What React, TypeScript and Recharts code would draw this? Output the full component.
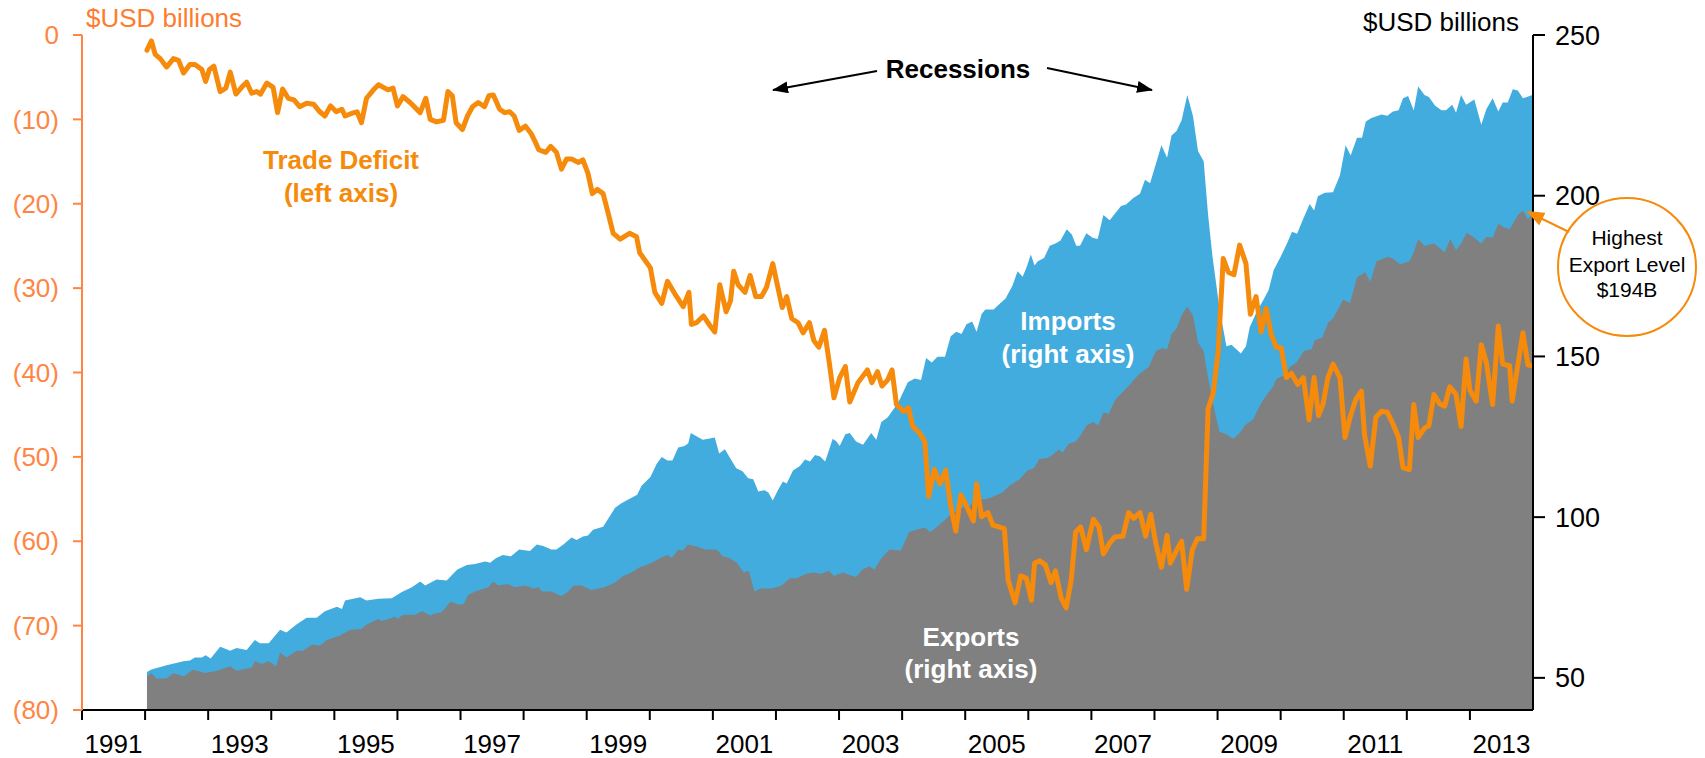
import React from 'react';
import { ComposedChart, Area, Line, XAxis, YAxis } from 'recharts';

// Trade deficit (left axis, $USD billions, shown as (x))
const deficitT = [1992.03,1992.10,1992.16,1992.24,1992.34,1992.45,1992.53,1992.61,1992.71,1992.79,1992.90,1992.96,1993.02,1993.09,1993.19,1993.28,1993.35,1993.44,1993.53,1993.61,1993.69,1993.77,1993.83,1993.93,1994.03,1994.10,1994.18,1994.27,1994.36,1994.45,1994.56,1994.67,1994.77,1994.85,1994.94,1995.03,1995.12,1995.17,1995.27,1995.36,1995.43,1995.51,1995.62,1995.70,1995.85,1995.93,1996.00,1996.09,1996.20,1996.36,1996.45,1996.52,1996.62,1996.73,1996.80,1996.87,1996.93,1997.03,1997.11,1997.19,1997.28,1997.38,1997.45,1997.52,1997.62,1997.70,1997.78,1997.85,1997.93,1998.03,1998.12,1998.18,1998.24,1998.35,1998.43,1998.52,1998.60,1998.68,1998.76,1998.87,1998.94,1999.02,1999.09,1999.17,1999.26,1999.34,1999.42,1999.53,1999.68,1999.79,1999.84,2000.01,2000.08,2000.19,2000.28,2000.40,2000.53,2000.62,2000.66,2000.74,2000.85,2000.95,2001.03,2001.11,2001.21,2001.28,2001.33,2001.40,2001.51,2001.59,2001.68,2001.77,2001.85,2001.95,2002.03,2002.10,2002.17,2002.25,2002.35,2002.43,2002.53,2002.60,2002.68,2002.77,2002.85,2002.92,2003.01,2003.10,2003.17,2003.30,2003.45,2003.52,2003.61,2003.68,2003.77,2003.84,2003.91,2004.02,2004.10,2004.17,2004.28,2004.36,2004.42,2004.51,2004.60,2004.69,2004.77,2004.85,2004.93,2005.00,2005.13,2005.18,2005.26,2005.36,2005.44,2005.62,2005.68,2005.79,2005.88,2005.97,2006.05,2006.10,2006.18,2006.27,2006.36,2006.43,2006.52,2006.60,2006.68,2006.75,2006.83,2006.92,2007.03,2007.12,2007.19,2007.29,2007.37,2007.50,2007.59,2007.67,2007.77,2007.86,2007.94,2008.02,2008.11,2008.20,2008.25,2008.35,2008.43,2008.51,2008.60,2008.68,2008.78,2008.85,2008.93,2009.01,2009.09,2009.17,2009.26,2009.35,2009.45,2009.52,2009.61,2009.69,2009.77,2009.85,2009.93,2010.01,2010.09,2010.17,2010.27,2010.36,2010.45,2010.53,2010.60,2010.67,2010.75,2010.83,2010.94,2011.02,2011.10,2011.19,2011.28,2011.33,2011.42,2011.51,2011.60,2011.69,2011.78,2011.87,2011.94,2012.04,2012.11,2012.18,2012.28,2012.35,2012.43,2012.52,2012.60,2012.68,2012.78,2012.86,2012.94,2013.00,2013.10,2013.18,2013.26,2013.36,2013.45,2013.52,2013.63,2013.67,2013.76,2013.84,2013.92,2013.97];
const deficitV = [1.8,0.7,2.3,2.8,3.8,2.8,3.0,4.5,3.5,3.5,4.1,5.5,4.1,3.7,6.7,6.3,4.4,7.0,6.2,5.6,6.9,6.7,7.0,5.7,6.2,9.2,6.4,7.5,7.7,8.5,8.1,8.2,9.1,9.6,8.4,9.1,8.8,9.6,9.3,9.1,10.4,7.5,6.5,5.9,6.5,6.3,8.4,7.3,8.0,9.2,7.5,10.0,10.3,10.1,6.7,7.2,10.4,11.2,9.6,8.5,8.0,8.5,7.2,7.1,8.8,9.2,9.1,9.6,11.3,10.8,11.7,12.6,13.6,13.9,13.2,13.9,15.9,14.7,14.7,15.1,14.8,16.4,18.8,18.3,18.8,21.1,23.5,24.2,23.5,23.9,25.8,27.6,30.5,31.8,29.2,30.7,32.2,30.5,34.3,34.1,33.3,34.4,35.2,29.6,32.8,31.5,28.0,29.6,30.5,28.5,31.0,31.0,29.9,27.1,29.9,32.3,31.0,33.6,34.1,35.3,34.1,36.2,37.0,35.0,39.1,43.0,40.6,39.3,43.5,41.2,39.7,41.2,39.9,41.6,40.9,39.7,43.8,44.6,44.2,46.4,47.2,48.2,54.7,51.5,53.2,51.6,55.8,58.8,54.5,55.5,57.6,53.2,57.1,56.6,58.1,58.5,64.6,67.3,64.1,64.4,67.0,62.6,62.3,62.8,64.9,63.5,66.7,67.9,64.6,58.9,58.3,61.0,57.4,58.3,61.5,60.2,59.5,59.4,56.6,57.3,56.6,59.4,56.8,60.2,63.1,59.3,62.6,61.1,60.0,65.7,61.0,59.7,59.7,44.3,42.5,37.5,26.5,28.1,28.4,24.9,27.1,33.1,31.0,35.2,32.4,35.5,37.0,37.1,40.6,40.1,41.4,40.6,45.6,40.6,45.1,43.8,40.6,39.0,40.6,47.7,45.3,43.2,42.2,47.4,51.1,45.3,44.6,44.7,46.1,47.7,51.3,51.5,43.8,47.7,46.6,46.3,42.6,43.7,44.0,41.7,42.6,46.4,38.4,42.1,43.4,36.7,38.8,43.8,34.5,39.0,39.2,43.4,39.1,35.3,39.1,39.2];

// Imports (right axis, $USD billions)
const importsT = [1992.03,1992.10,1992.34,1992.61,1992.71,1992.79,1992.90,1992.96,1993.04,1993.19,1993.35,1993.45,1993.61,1993.74,1993.82,1993.96,1994.14,1994.24,1994.40,1994.56,1994.72,1994.85,1995.04,1995.12,1995.17,1995.41,1995.51,1995.70,1995.91,1996.07,1996.23,1996.36,1996.44,1996.62,1996.78,1996.95,1997.10,1997.23,1997.39,1997.47,1997.56,1997.67,1997.80,1997.93,1998.10,1998.21,1998.31,1998.44,1998.52,1998.63,1998.76,1998.84,1998.94,1999.02,1999.10,1999.26,1999.34,1999.45,1999.55,1999.80,1999.87,2000.01,2000.11,2000.19,2000.28,2000.36,2000.45,2000.55,2000.61,2000.65,2000.74,2000.84,2000.93,2001.03,2001.10,2001.19,2001.37,2001.47,2001.56,2001.64,2001.72,2001.82,2001.88,2001.95,2002.03,2002.11,2002.17,2002.27,2002.38,2002.46,2002.54,2002.62,2002.70,2002.78,2002.90,2002.96,2003.01,2003.10,2003.17,2003.27,2003.38,2003.51,2003.59,2003.67,2003.77,2003.88,2003.96,2004.09,2004.20,2004.30,2004.38,2004.47,2004.56,2004.68,2004.77,2004.86,2004.94,2005.02,2005.11,2005.18,2005.26,2005.32,2005.45,2005.56,2005.64,2005.75,2005.83,2005.91,2005.97,2006.04,2006.10,2006.15,2006.25,2006.34,2006.43,2006.51,2006.61,2006.69,2006.76,2006.82,2006.92,2007.02,2007.10,2007.19,2007.29,2007.47,2007.55,2007.66,2007.77,2007.85,2007.93,2008.01,2008.11,2008.20,2008.27,2008.35,2008.43,2008.52,2008.61,2008.69,2008.78,2008.85,2008.92,2009.03,2009.14,2009.22,2009.37,2009.45,2009.51,2009.62,2009.73,2009.81,2009.89,2009.99,2010.10,2010.18,2010.26,2010.34,2010.46,2010.53,2010.59,2010.70,2010.83,2010.94,2011.03,2011.11,2011.21,2011.29,2011.35,2011.44,2011.60,2011.69,2011.78,2011.87,2011.94,2012.02,2012.11,2012.18,2012.28,2012.35,2012.45,2012.55,2012.62,2012.72,2012.78,2012.86,2012.94,2013.07,2013.18,2013.26,2013.36,2013.45,2013.52,2013.60,2013.68,2013.76,2013.84,2013.99];
const importsV = [51.8,52.6,53.9,55.2,55.4,56.3,56.3,57.0,56.0,59.7,58.4,59.3,58.7,61.8,60.8,60.8,65.0,64.1,66.6,68.7,68.7,70.7,72.1,71.4,74.1,75.1,74.1,74.6,74.8,76.7,78.2,80.0,78.7,80.6,80.3,83.7,85.1,85.4,86.2,85.8,87.2,88.2,87.8,89.9,89.5,91.5,91.0,89.9,89.9,91.5,93.7,92.9,94.0,94.3,96.1,97.0,99.5,102.9,104.3,107.0,109.8,112.5,116.6,118.7,117.6,117.6,121.7,122.1,123.0,126.2,125.2,124.1,124.4,124.8,119.8,121.1,115.2,114.3,112.1,111.8,108.0,108.4,107.7,105.2,108.4,111.1,110.5,114.5,115.9,117.9,117.3,119.3,118.9,117.3,124.4,123.5,122.1,125.8,126.2,123.5,122.5,126.2,124.1,129.6,131.0,134.0,136.5,142.0,143.1,142.7,149.5,148.1,149.9,149.9,156.3,157.7,157.0,160.0,160.9,157.7,163.2,164.6,164.6,166.6,168.0,172.1,176.5,174.8,177.6,181.7,178.3,179.6,180.6,184.4,185.1,186.1,189.6,187.9,184.4,184.4,188.3,186.9,186.5,194.0,192.4,196.8,197.3,199.2,200.6,205.0,203.9,209.1,215.7,211.8,218.7,220.1,223.5,231.3,224.8,213.9,210.7,194.0,181.0,165.0,153.2,153.6,150.9,153.2,159.1,163.9,167.7,170.7,176.9,180.6,185.1,188.8,188.2,192.0,197.4,195.4,199.8,200.9,201.1,206.4,215.7,212.5,218.0,218.0,223.1,224.2,225.3,224.9,226.2,226.6,230.3,231.0,226.5,234.0,231.3,230.7,228.0,226.6,226.6,228.3,225.8,231.3,228.3,229.9,222.1,226.9,230.3,226.2,229.0,229.0,233.1,232.7,230.3,231.3];

// Exports (right axis, $USD billions)
const exportsT = [1992.03,1992.10,1992.18,1992.34,1992.45,1992.61,1992.76,1992.95,1993.14,1993.35,1993.45,1993.69,1993.74,1993.85,1993.96,1994.08,1994.14,1994.24,1994.40,1994.50,1994.65,1994.77,1994.88,1995.09,1995.25,1995.43,1995.51,1995.70,1995.75,1995.86,1995.96,1996.00,1996.09,1996.28,1996.39,1996.52,1996.59,1996.70,1996.84,1996.97,1997.05,1997.12,1997.23,1997.44,1997.52,1997.60,1997.75,1997.86,1998.03,1998.16,1998.24,1998.29,1998.44,1998.60,1998.71,1998.79,1998.92,1999.07,1999.28,1999.44,1999.58,1999.71,1999.84,2000.00,2000.16,2000.28,2000.35,2000.45,2000.53,2000.60,2000.72,2000.88,2001.06,2001.16,2001.27,2001.38,2001.49,2001.57,2001.66,2001.75,2001.93,2002.09,2002.22,2002.33,2002.48,2002.59,2002.71,2002.84,2002.92,2003.06,2003.17,2003.27,2003.37,2003.48,2003.56,2003.67,2003.80,2003.98,2004.11,2004.22,2004.36,2004.44,2004.54,2004.68,2004.78,2004.94,2005.08,2005.18,2005.32,2005.43,2005.59,2005.70,2005.86,2005.99,2006.09,2006.17,2006.30,2006.38,2006.49,2006.54,2006.64,2006.75,2006.83,2006.92,2007.03,2007.11,2007.19,2007.27,2007.38,2007.48,2007.59,2007.75,2007.91,2008.02,2008.12,2008.20,2008.27,2008.35,2008.43,2008.52,2008.61,2008.69,2008.78,2008.85,2008.93,2009.03,2009.14,2009.25,2009.35,2009.45,2009.56,2009.69,2009.80,2009.88,2009.93,2010.04,2010.15,2010.25,2010.37,2010.49,2010.54,2010.66,2010.75,2010.83,2010.99,2011.10,2011.21,2011.34,2011.42,2011.52,2011.70,2011.79,2011.89,2012.04,2012.11,2012.18,2012.28,2012.43,2012.52,2012.60,2012.69,2012.78,2012.86,2012.95,2013.07,2013.18,2013.26,2013.36,2013.45,2013.54,2013.63,2013.76,2013.84,2013.92,2013.99];
const exportsV = [50.4,51.5,49.8,49.8,51.5,50.4,52.6,51.5,52.2,53.6,52.2,53.2,55.2,54.3,55.2,53.6,57.9,56.3,58.4,58.4,60.4,60.0,61.8,63.2,65.0,65.2,66.6,68.3,67.7,68.3,69.1,68.3,69.6,69.6,70.7,69.4,70.0,70.4,73.7,72.8,73.0,75.8,76.9,78.2,80.0,78.7,79.2,78.2,78.7,77.8,78.2,76.9,76.9,75.5,76.9,78.7,78.7,77.3,78.2,79.6,81.7,82.8,84.4,85.5,87.2,88.2,87.4,89.9,89.6,91.5,91.0,89.9,89.9,87.8,87.2,85.8,82.8,83.3,76.9,77.8,77.8,78.7,81.0,81.0,82.4,82.8,82.4,83.3,81.7,82.8,82.0,81.4,83.7,84.7,83.7,87.2,89.9,89.6,95.4,96.1,96.8,95.4,96.8,99.2,101.1,102.9,103.6,105.6,105.6,106.3,107.7,109.8,111.8,114.6,115.2,118.0,118.4,119.3,121.1,120.0,122.8,123.5,125.5,128.5,129.6,128.5,132.6,132.1,136.5,138.6,140.9,144.4,146.8,151.6,152.6,152.2,157.0,158.7,162.8,165.5,162.8,154.3,151.6,143.3,135.1,126.6,125.8,124.4,126.2,128.9,130.3,135.4,138.6,140.6,143.0,144.0,146.8,148.1,151.8,152.2,155.0,155.9,160.5,161.8,167.7,166.6,174.6,176.2,173.2,179.6,181.0,180.3,178.7,179.6,182.4,186.5,184.4,185.1,183.7,182.4,186.5,183.1,185.1,188.5,186.9,185.1,187.2,186.9,191.3,190.2,189.6,194.0,195.4,192.7,194.3];

const yearTicks = [1991,1992,1993,1994,1995,1996,1997,1998,1999,2000,2001,2002,2003,2004,2005,2006,2007,2008,2009,2010,2011,2012,2013];
const labelYears = [1991,1993,1995,1997,1999,2001,2003,2005,2007,2009,2011,2013];
const leftTicks = [0,10,20,30,40,50,60,70,80];
const rightTicks = [50,100,150,200,250];

const deficitData = deficitT.map((t, i) => ({ t, v: deficitV[i] }));
const importsData = importsT.map((t, i) => ({ t, v: importsV[i] }));
const exportsData = exportsT.map((t, i) => ({ t, v: exportsV[i] }));

const ORANGE_LINE = '#F58A0B';
const ORANGE_AXIS = '#FF8544';
const ORANGE_TEXT = '#FF7B2E';
const BLUE = '#42ACDF';
const GRAY = '#808080';
const FONT = '"Liberation Sans", Arial, sans-serif';

const X_MIN = 1991;
const X_MAX = 2014;

// Year labels are centred in the middle of each year interval (between ticks)
const YearTick = (props: any) => {
  const { x, y, payload } = props;
  const year = payload && payload.value;
  if (labelYears.indexOf(year) < 0) return null;
  const halfYear = (1705 - 82 - 172) / (X_MAX - X_MIN) / 2;
  return (
    <text x={x + halfYear} y={y} dy="0.71em" textAnchor="middle" fontSize={26} fill="#000">
      {String(year)}
    </text>
  );
};

export default function App() {
  return (
    <div style={{ position: 'absolute', left: 0, top: 0, width: 1705, height: 758, fontFamily: FONT, background: '#fff' }}>
      <ComposedChart width={1705} height={758} margin={{ top: 35, right: 0, bottom: 0, left: 0 }}>
        <XAxis
          dataKey="t"
          type="number"
          domain={[X_MIN, X_MAX]}
          ticks={yearTicks}
          interval={0}
          height={48}
          tickSize={10}
          tickMargin={15}
          axisLine={{ stroke: '#000', strokeWidth: 2 }}
          tickLine={{ stroke: '#000', strokeWidth: 2 }}
          tick={<YearTick />}
          allowDataOverflow
        />
        <YAxis
          yAxisId="left"
          orientation="left"
          domain={[0, 80]}
          reversed
          ticks={leftTicks}
          interval={0}
          width={82}
          tickSize={9}
          tickMargin={14}
          tickFormatter={(v: number) => (v === 0 ? '0' : `(${v})`)}
          axisLine={{ stroke: ORANGE_AXIS, strokeWidth: 2 }}
          tickLine={{ stroke: ORANGE_AXIS, strokeWidth: 2 }}
          tick={{ fill: ORANGE_AXIS, fontSize: 26 }}
          allowDataOverflow
        />
        <YAxis
          yAxisId="right"
          orientation="right"
          domain={[40, 250]}
          ticks={rightTicks}
          interval={0}
          width={172}
          tickSize={12}
          tickMargin={10}
          axisLine={{ stroke: '#000', strokeWidth: 2 }}
          tickLine={{ stroke: '#000', strokeWidth: 2 }}
          tick={{ fill: '#000', fontSize: 27 }}
          allowDataOverflow
        />
        <Area
          yAxisId="right"
          data={importsData}
          dataKey="v"
          type="linear"
          stroke="none"
          fill={BLUE}
          fillOpacity={1}
          isAnimationActive={false}
          dot={false}
          activeDot={false}
        />
        <Area
          yAxisId="right"
          data={exportsData}
          dataKey="v"
          type="linear"
          stroke="none"
          fill={GRAY}
          fillOpacity={1}
          isAnimationActive={false}
          dot={false}
          activeDot={false}
        />
        <Line
          yAxisId="left"
          data={deficitData}
          dataKey="v"
          type="linear"
          stroke={ORANGE_LINE}
          strokeWidth={5}
          strokeLinejoin="round"
          strokeLinecap="round"
          dot={false}
          activeDot={false}
          isAnimationActive={false}
        />
      </ComposedChart>
      <svg
        width={1705}
        height={758}
        style={{ position: 'absolute', left: 0, top: 0, pointerEvents: 'none', fontFamily: FONT }}
      >
        <defs>
          <marker id="arrBlack" viewBox="0 0 16 12" markerWidth={16} markerHeight={12} refX={15} refY={6} orient="auto" markerUnits="userSpaceOnUse">
            <path d="M0,0 L16,6 L0,12 z" fill="#000" />
          </marker>
          <marker id="arrOrange" viewBox="0 0 18 14" markerWidth={18} markerHeight={14} refX={16} refY={7} orient="auto" markerUnits="userSpaceOnUse">
            <path d="M0,0 L18,7 L0,14 z" fill={ORANGE_LINE} />
          </marker>
        </defs>
        <text x={86} y={27} fontSize={26} fill={ORANGE_TEXT}>$USD billions</text>
        <text x={1519} y={31} fontSize={26} fill="#000" textAnchor="end">$USD billions</text>

        <text x={958} y={78} fontSize={26} fontWeight="bold" fill="#000" textAnchor="middle">Recessions</text>
        <line x1={877} y1={71} x2={773} y2={90} stroke="#000" strokeWidth={2} markerEnd="url(#arrBlack)" />
        <line x1={1047} y1={68} x2={1152} y2={90} stroke="#000" strokeWidth={2} markerEnd="url(#arrBlack)" />

        <text x={341} y={169} fontSize={26} fontWeight="bold" fill={ORANGE_LINE} textAnchor="middle">Trade Deficit</text>
        <text x={341} y={202} fontSize={26} fontWeight="bold" fill={ORANGE_LINE} textAnchor="middle">(left axis)</text>

        <text x={1068} y={330} fontSize={26} fontWeight="bold" fill="#fff" textAnchor="middle">Imports</text>
        <text x={1068} y={363} fontSize={26} fontWeight="bold" fill="#fff" textAnchor="middle">(right axis)</text>

        <text x={971} y={646} fontSize={26} fontWeight="bold" fill="#fff" textAnchor="middle">Exports</text>
        <text x={971} y={678} fontSize={26} fontWeight="bold" fill="#fff" textAnchor="middle">(right axis)</text>

        <circle cx={1627} cy={267} r={69} fill="#fff" stroke={ORANGE_LINE} strokeWidth={2} />
        <line x1={1569} y1={232} x2={1528} y2={212} stroke={ORANGE_LINE} strokeWidth={2} markerEnd="url(#arrOrange)" />
        <text x={1627} y={245} fontSize={21} fill="#000" textAnchor="middle">Highest</text>
        <text x={1627} y={272} fontSize={21} fill="#000" textAnchor="middle">Export Level</text>
        <text x={1627} y={297} fontSize={21} fill="#000" textAnchor="middle">$194B</text>
      </svg>
    </div>
  );
}
